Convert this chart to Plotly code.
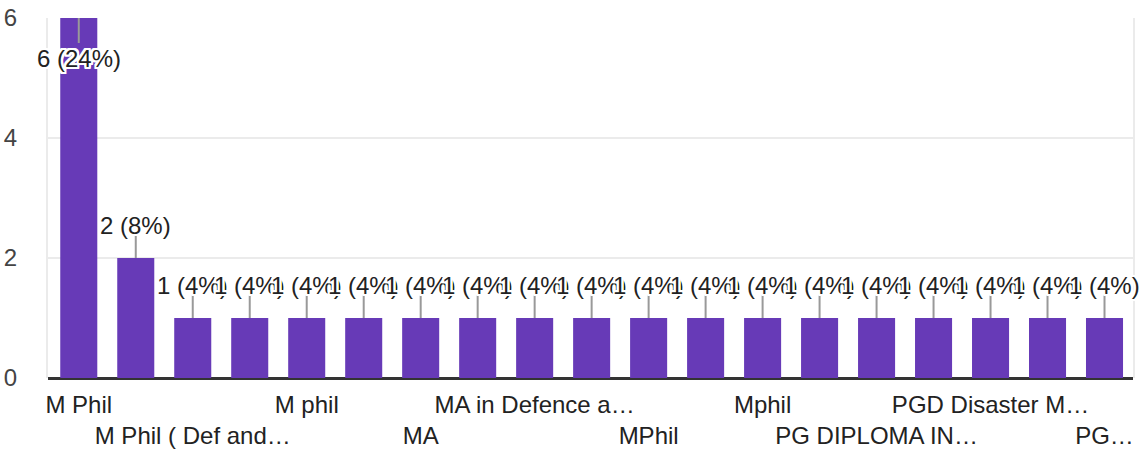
import plotly.graph_objects as go

categories = [
    "M Phil", "M.Phil", "M Phil ( Def and Strategic Studies)", "M Phil (Defence)",
    "M phil", "M. Phil", "MA", "MA Defence Studies",
    "MA in Defence and Strategic Studies", "MBA", "MPhil", "MSc",
    "Mphil", "PG Diploma", "PG DIPLOMA IN DISASTER MANAGEMENT", "PGD",
    "PGD Disaster Management", "PGDM", "PG Diploma in Disaster Management",
]
counts = [6, 2, 1, 1, 1, 1, 1, 1, 1, 1, 1, 1, 1, 1, 1, 1, 1, 1, 1]
pct_labels = ["6 (24%)", "2 (8%)"] + ["1 (4%)"] * 17
tick_idx = [0, 2, 4, 6, 8, 10, 12, 14, 16, 18]
tick_text = ["M Phil", "M Phil ( Def and…", "M phil", "MA", "MA in Defence a…",
             "MPhil", "Mphil", "PG DIPLOMA IN…", "PGD Disaster M…", "PG…"]
y_ticks = [0, 2, 4, 6]

BAR = "#673ab7"
FONT = "Liberation Sans, Arial, sans-serif"
halo = ", ".join(f"{dx}px {dy}px 0 #fff" for dx in (-2, -1, 0, 1, 2) for dy in (-2, -1, 0, 1, 2) if dx or dy)

fig = go.Figure()
fig.add_trace(go.Bar(x=categories, y=counts, marker=dict(color=BAR, line=dict(width=0)),
                     hoverinfo="skip", showlegend=False))

ymax = max(y_ticks)
for i, (c, v, t) in enumerate(zip(categories, counts, pct_labels)):
    inside = v >= ymax
    fig.add_shape(type="line", xref="x", yref="y", x0=c, x1=c,
                  ysizemode="pixel", yanchor=v,
                  y0=0, y1=(-25 if inside else 23),
                  line=dict(color="#999999", width=2), layer="above")
    fig.add_annotation(x=c, y=v, text=t, showarrow=False,
                       yshift=(-40 if inside else 33),
                       font=dict(family=FONT, size=24, color="#222222", shadow=halo))

ticktext = [(t if k % 2 == 0 else "<br>" + t) for k, t in enumerate(tick_text)]

fig.update_layout(
    width=1141, height=455,
    margin=dict(l=48, r=8, t=18, b=77, autoexpand=False),
    paper_bgcolor="white", plot_bgcolor="white",
    bargap=0.35,
    font=dict(family=FONT, size=24, color="#222222"),
    xaxis=dict(type="category", range=[-0.54, 18.5], automargin=False,
               tickmode="array", tickvals=[categories[k] for k in tick_idx],
               ticktext=ticktext, tickangle=0,
               showgrid=False, showline=False, ticks="",
               tickfont=dict(family=FONT, size=24, color="#222222"),
               ticklabelstandoff=10),
    yaxis=dict(range=[0, ymax], tickmode="array", tickvals=y_ticks, automargin=False,
               showgrid=True, gridcolor="#ebebeb", gridwidth=2,
               zeroline=True, zerolinecolor="#333333", zerolinewidth=3,
               showline=True, linecolor="#ebebeb", linewidth=2, mirror=True,
               ticks="", ticklabelstandoff=24,
               tickfont=dict(family=FONT, size=24, color="#444444")),
)

fig.write_html("out.html", config={"displayModeBar": False},
               post_script="document.body.style.margin='0';")
